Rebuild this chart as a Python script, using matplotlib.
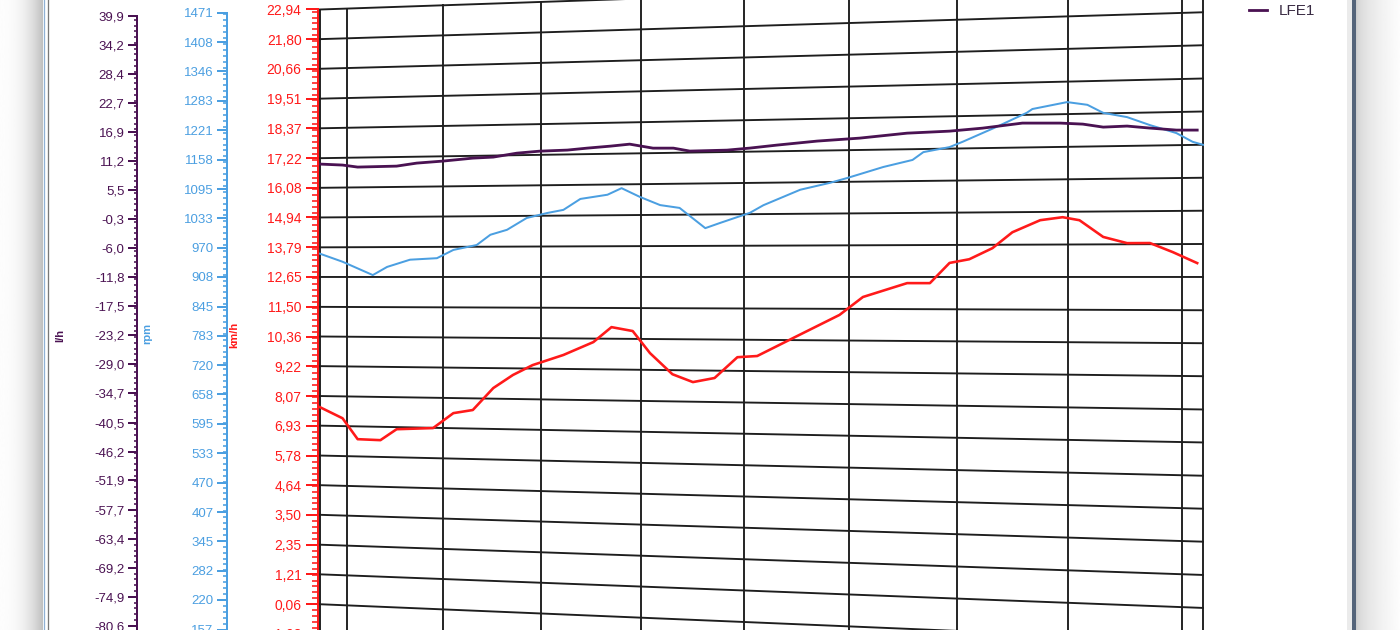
import numpy as np
import matplotlib
matplotlib.use("Agg")
import matplotlib.pyplot as plt
from matplotlib import transforms as mtransforms
from matplotlib.lines import Line2D
from matplotlib.ticker import AutoMinorLocator

# vehicle speed (km/h), engine speed (rpm) and fuel rate LFE1 (l/h) over time (s)
kmh_time = [0, 2.4, 4.0, 6.4, 8.1, 11.9, 14.0, 16.0, 18.1, 20.1, 22.1, 25.2, 28.2, 30.0,
            32.1, 33.8, 36.0, 38.0, 40.1, 42.3, 44.2, 47.6, 52.0, 54.2, 58.3, 60.4, 62.2,
            64.0, 66.1, 67.9, 70.4, 72.4, 73.9, 76.0, 78.1, 80.1, 82.1, 84.2]
kmh = [7.64, 7.23, 6.44, 6.42, 6.85, 6.92, 7.50, 7.63, 8.47, 8.97, 9.35, 9.74, 10.23, 10.79,
       10.65, 9.84, 9.07, 8.79, 8.95, 9.72, 9.77, 10.43, 11.28, 11.93, 12.43, 12.43, 13.15,
       13.28, 13.67, 14.23, 14.65, 14.75, 14.64, 14.05, 13.83, 13.83, 13.51, 13.13]

rpm_time = [0, 2.4, 5.6, 7.1, 9.5, 12.3, 14.0, 16.4, 17.8, 19.5, 21.5, 23.6, 25.2, 26.9,
            29.6, 31.0, 32.8, 34.8, 36.7, 39.2, 40.6, 43.5, 44.8, 48.3, 51.1, 52.7, 56.1,
            58.8, 59.8, 62.2, 63.4, 66.5, 69.2, 69.7, 72.8, 74.6, 76.0, 78.1, 80.1, 82.4,
            83.8, 84.7]
rpm = [957, 940, 912, 929, 944, 947, 964, 974, 995, 1005, 1029, 1039, 1045, 1067,
       1075, 1088, 1070, 1053, 1047, 1006, 1016, 1036, 1051, 1081, 1094, 1103, 1124,
       1137, 1152, 1161, 1171, 1199, 1225, 1232, 1244, 1238, 1222, 1213, 1197, 1181,
       1164, 1158]

lfe_time = [0, 2.4, 4.0, 8.1, 10.2, 12.9, 16.0, 18.1, 20.5, 22.8, 25.6, 27.6, 29.9, 31.8,
            34.1, 36.1, 37.7, 41.3, 43.5, 46.1, 49.9, 53.9, 58.3, 62.2, 65.2, 68.8, 72.2,
            74.2, 76.0, 78.1, 80.1, 82.4, 84.2]
lfe = [10.07, 9.82, 9.39, 9.47, 9.99, 10.30, 10.78, 10.92, 11.59, 11.90, 12.02, 12.33,
       12.63, 12.94, 12.13, 12.07, 11.48, 11.55, 11.86, 12.33, 12.94, 13.35, 14.10, 14.33,
       14.76, 15.53, 15.41, 15.16, 14.57, 14.68, 14.26, 13.83, 13.77]

time_grid = [2.9, 12.9, 22.9, 32.9, 42.9, 52.9, 62.9, 72.9, 82.9]
time_range = (0, 84.7)

kmh_labels = ["22,94", "21,80", "20,66", "19,51", "18,37", "17,22", "16,08", "14,94",
              "13,79", "12,65", "11,50", "10,36", "9,22", "8,07", "6,93", "5,78", "4,64",
              "3,50", "2,35", "1,21", "0,06", "-1,08"]
rpm_labels = ["1471", "1408", "1346", "1283", "1221", "1158", "1095", "1033", "970", "908",
              "845", "783", "720", "658", "595", "533", "470", "407", "345", "282", "220",
              "157"]
lfe_labels = ["39,9", "34,2", "28,4", "22,7", "16,9", "11,2", "5,5", "-0,3", "-6,0", "-11,8",
              "-17,5", "-23,2", "-29,0", "-34,7", "-40,5", "-46,2", "-51,9", "-57,7",
              "-63,4", "-69,2", "-74,9", "-80,6"]

kmh_range = (-2.22, 22.94)
rpm_range = (94.5, 1471)
lfe_range = (-86.3, 39.9)

RED = "#ff1a1a"
BLUE = "#4b9fe1"
PURPLE = "#4a1252"
GRID = "#1e1e1e"

plt.rcParams["font.family"] = ["Liberation Sans Narrow", "Liberation Sans", "DejaVu Sans"]

W, H = 1400, 630
PX = 72 / 100  # points per pixel


def val(s):
    return float(s.replace(",", "."))


class Tilt(mtransforms.Transform):
    """Perspective tilt of the screenshot, applied in axes-fraction space."""
    input_dims = 2
    output_dims = 2

    def __init__(self, p=-0.1015, vc=0.591):
        super().__init__()
        self.p = p
        self.vc = vc

    def transform_non_affine(self, values):
        values = np.asarray(values, dtype=float)
        flat = values.ndim == 1
        xy = np.atleast_2d(values)
        u, v = xy[:, 0], xy[:, 1]
        s = 1.0 / (1.0 + self.p * u)
        out = np.column_stack([(1.0 + self.p) * u * s, self.vc + (v - self.vc) * s])
        return out[0] if flat else out


def tilted(a):
    return a.transData + a.transAxes.inverted() + Tilt() + a.transAxes


fig = plt.figure(figsize=(W / 100, H / 100), dpi=100, facecolor="white")

# window frame and drop shadows
bg = fig.add_axes([0, 0, 1, 1], zorder=-5)
bg.set_xlim(0, W)
bg.set_ylim(H, 0)
bg.axis("off")
ramp = np.linspace(0, 1, 64)
bg.imshow((0.99 - 0.24 * ramp ** 2.5)[None, :], cmap="gray", vmin=0, vmax=1,
          extent=(0, 43, H, 0), aspect="auto")
bg.imshow((0.80 + 0.19 * np.sqrt(ramp))[None, :], cmap="gray", vmin=0, vmax=1,
          extent=(1356, W, H, 0), aspect="auto")
bg.axvline(43.8, color="#8fb0d4", lw=1.3 * PX)
bg.axvline(48.2, color="#787878", lw=1.3 * PX)
bg.axvspan(1347, 1352, color="#ebebeb", lw=0)
bg.axvspan(1352, 1356, color="#55657a", lw=0)

# plot area (km/h scale) with two twin scales for the other series
ax = fig.add_axes([320 / W, -33.5 / H, 883 / W, 654 / H])
ax_rpm = ax.twinx()
ax_lfe = ax.twinx()
for a in (ax, ax_rpm, ax_lfe):
    a.set_axis_off()

kmh_ticks = [val(s) for s in kmh_labels]
for v in kmh_ticks:
    ax.plot(time_range, [v, v], color=GRID, lw=1.9 * PX, transform=tilted(ax),
            clip_on=False, zorder=1)
for t in [time_range[0]] + time_grid + [time_range[1]]:
    ax.plot([t, t], kmh_range, color=GRID, lw=1.9 * PX, transform=tilted(ax),
            clip_on=False, zorder=1)

ax.plot(kmh_time, kmh, color=RED, lw=2.6 * PX, transform=tilted(ax), clip_on=False,
        zorder=3)
ax_rpm.plot(rpm_time, rpm, color=BLUE, lw=2.0 * PX, transform=tilted(ax_rpm),
            clip_on=False, zorder=3)
lfe_line, = ax_lfe.plot(lfe_time, lfe, color=PURPLE, lw=2.8 * PX,
                        transform=tilted(ax_lfe), clip_on=False, zorder=3)

ax.set_xlim(*time_range)
ax.set_ylim(*kmh_range)
ax_rpm.set_ylim(*rpm_range)
ax_lfe.set_ylim(*lfe_range)


def scale_axis(x_px, s, lims, labels, color, major, minor, size):
    top = 277 - (277 - 9.5) * s
    bottom = 277 + (663.5 - 277) * s
    a = fig.add_axes([x_px / W, (H - bottom) / H, 0.0005, (bottom - top) / H])
    a.set_ylim(*lims)
    a.patch.set_visible(False)
    for side in ("top", "right", "bottom"):
        a.spines[side].set_visible(False)
    a.spines["left"].set_color(color)
    a.spines["left"].set_linewidth(2.0 * PX)
    a.set_xticks([])
    a.set_yticks([val(l) for l in labels], labels=labels)
    a.yaxis.set_minor_locator(AutoMinorLocator(5))
    a.tick_params(axis="y", which="major", length=major * PX, width=2.0 * PX, color=color,
                  labelcolor=color, labelsize=size, pad=3.5 * PX)
    a.tick_params(axis="y", which="minor", length=minor * PX, width=1.6 * PX, color=color)
    return a


scale_axis(137, 0.9766, lfe_range, lfe_labels, PURPLE, 9, 3.5, 9.5)
scale_axis(227, 0.988, rpm_range, rpm_labels, BLUE, 10, 4, 9.5)
scale_axis(317.5, 1.0, kmh_range, kmh_labels, RED, 12.5, 6, 10)

title_font = dict(rotation=90, ha="center", va="center", fontsize=8, fontweight="bold",
                  family=["Liberation Sans", "DejaVu Sans"])
fig.text(60 / W, 1 - 335 / H, "l/h", color=PURPLE, **title_font)
fig.text(147 / W, 1 - 333 / H, "rpm", color=BLUE, **title_font)
fig.text(234 / W, 1 - 335 / H, "km/h", color=RED, **title_font)

fig.legend(handles=[Line2D([], [], color=PURPLE, lw=2.8 * PX)], labels=["LFE1"],
           loc="upper left", bbox_to_anchor=(1249 / W, 1 - 4 / H), frameon=False,
           handlelength=1.15, handletextpad=0.8, borderpad=0, borderaxespad=0,
           prop=dict(family=["Liberation Sans", "DejaVu Sans"], size=11),
           labelcolor="#3a2c44")

fig.savefig("out.png", dpi=100)
